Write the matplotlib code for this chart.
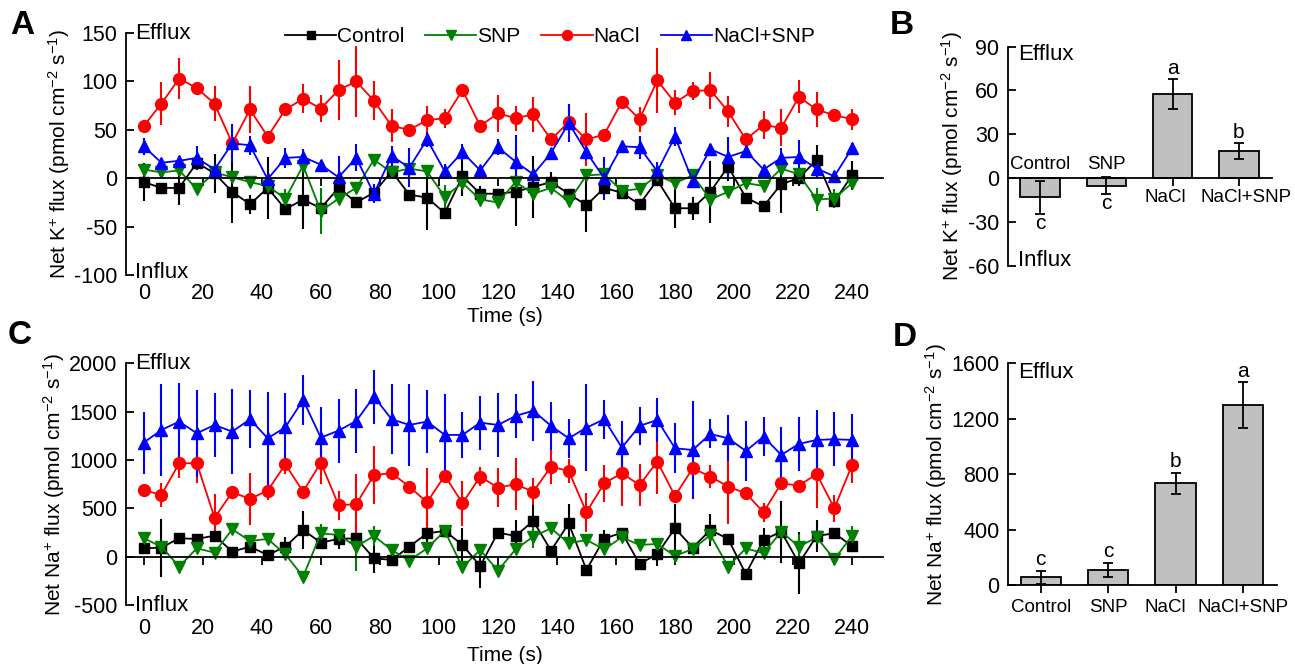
import numpy as np
import matplotlib
matplotlib.use("Agg")
import matplotlib.pyplot as plt
import matplotlib.transforms as mtransforms

plt.rcParams['font.family'] = ['Liberation Sans', 'DejaVu Sans']
plt.rcParams['mathtext.fontset'] = 'custom'
plt.rcParams['mathtext.rm'] = 'Liberation Sans'
plt.rcParams['mathtext.it'] = 'Liberation Sans:italic'
plt.rcParams['axes.unicode_minus'] = False
plt.rcParams['font.size'] = 15

# time points (s)
time = [0, 6, 12, 18, 24, 30, 36, 42, 48, 54, 60, 66, 72, 78, 84, 90, 96, 102, 108, 114, 120,
        126, 132, 138, 144, 150, 156, 162, 168, 174, 180, 186, 192, 198, 204, 210, 216, 222, 228, 234, 240]

names = ["Control", "SNP", "NaCl", "NaCl+SNP"]

# panel A: net K+ flux
k_ctrl = [-4, -10, -10, 16, 5, -14, -27, -10, -32, -22, -31, -10, -25, -15, 7, -17, -20, -36, 2, -16,
          -16, -14, -9, -4, -16, -28, -10, -15, -27, -2, -31, -31, -14, 12, -20, -29, -6, 0, 19, -24, 3]
k_ctrl_err = [20, 4, 18, 4, 20, 32, 10, 32, 4, 30, 4, 15, 4, 4, 4, 4, 33, 4, 20, 8,
              4, 35, 32, 10, 4, 28, 4, 4, 4, 4, 20, 12, 32, 15, 4, 4, 30, 8, 15, 4, 15]
k_snp = [9, 6, 8, -11, 6, 1, -4, -8, -21, 13, -34, -21, -10, 19, 6, 10, 7, -19, -5, -22,
         -25, -4, -16, -10, -24, 3, 4, -13, -11, 3, -5, 3, -22, -14, -5, -8, 10, 4, -22, -21, -5]
k_snp_err = [4, 4, 4, 4, 4, 4, 4, 4, 10, 4, 24, 4, 4, 4, 4, 4, 4, 12, 4, 4,
             4, 4, 4, 4, 4, 4, 4, 4, 4, 4, 4, 4, 4, 4, 4, 4, 4, 4, 12, 10, 4]
k_nacl = [54, 77, 103, 93, 77, 36, 71, 43, 71, 82, 72, 91, 100, 80, 54, 50, 60, 62, 91, 54,
          67, 62, 66, 40, 58, 40, 45, 79, 61, 101, 78, 90, 91, 69, 40, 55, 52, 84, 71, 65, 61]
k_nacl_err = [4, 22, 21, 3, 18, 8, 24, 3, 3, 15, 14, 31, 37, 20, 17, 3, 15, 10, 3, 3,
              19, 13, 18, 3, 19, 27, 3, 3, 13, 34, 13, 9, 19, 16, 3, 14, 19, 17, 18, 3, 11]
k_both = [33, 16, 18, 21, 9, 36, 34, -1, 21, 22, 14, 1, 21, -16, 23, 11, 40, 7, 27, 8,
          32, 17, 4, 26, 57, 27, 0, 33, 32, 7, 43, -3, 30, 22, 28, 9, 21, 22, 10, 2, 31]
k_both_err = [9, 5, 5, 12, 5, 20, 10, 5, 10, 8, 5, 22, 14, 10, 10, 20, 8, 8, 8, 5,
              8, 28, 5, 5, 20, 8, 22, 5, 12, 10, 10, 5, 5, 21, 5, 5, 10, 17, 10, 5, 5]

# panel C: net Na+ flux
na_ctrl = [86, 93, 190, 183, 217, 52, 103, 17, 103, 276, 145, 183, 190, -17, -34, 103, 241, 266, 121, -97,
           248, 214, 369, 62, 345, -138, 186, 248, -76, 28, 293, 93, 276, 183, -179, 172, 259, -69, 214, 241, 110]
na_ctrl_err = [40, 300, 40, 40, 40, 40, 40, 50, 100, 200, 40, 100, 40, 150, 40, 40, 200, 40, 180, 230,
               40, 170, 180, 40, 200, 40, 90, 40, 40, 120, 250, 40, 170, 40, 40, 120, 320, 320, 170, 40, 40]
na_snp = [190, 103, -103, 86, 41, 283, 162, 183, 24, -207, 241, 224, 103, 214, 69, -41, 86, 266, -110, 69,
          -145, 76, 207, 293, 138, 172, 76, 200, 121, 131, 7, 79, 224, -103, 86, 34, 259, 103, 200, -28, 217]
na_snp_err = [40, 40, 40, 40, 40, 40, 40, 40, 40, 40, 100, 40, 250, 100, 40, 40, 40, 40, 40, 40,
              40, 40, 120, 40, 40, 40, 40, 40, 40, 40, 40, 40, 40, 40, 40, 40, 40, 130, 40, 40, 100]
na_nacl = [690, 638, 966, 966, 403, 666, 597, 683, 955, 672, 972, 534, 541, 845, 862, 724, 562, 838, 552, 828,
           714, 748, 672, 931, 886, 459, 759, 862, 741, 983, 628, 914, 828, 724, 655, 459, 759, 734, 855, 500, 948]
na_nacl_err = [40, 120, 150, 200, 250, 40, 270, 100, 100, 40, 220, 150, 310, 300, 40, 40, 350, 40, 230, 100,
               200, 270, 140, 180, 120, 200, 190, 340, 220, 340, 40, 100, 120, 390, 40, 100, 40, 40, 350, 140, 190]
na_both = [1179, 1310, 1397, 1276, 1362, 1293, 1421, 1224, 1338, 1621, 1231, 1303, 1403, 1655, 1421, 1362, 1397, 1259, 1259, 1386,
           1362, 1455, 1510, 1352, 1224, 1334, 1421, 1128, 1352, 1414, 1121, 1103, 1269, 1224, 1093, 1241, 1052, 1166, 1207, 1214, 1207]
na_both_err = [320, 480, 400, 450, 330, 440, 300, 480, 350, 260, 320, 330, 330, 280, 360, 420, 330, 420, 240, 280,
               330, 230, 310, 250, 200, 450, 200, 270, 200, 230, 260, 510, 150, 240, 310, 200, 290, 280, 310, 280, 270]

# panels B and D: mean flux
k_mean = [-13.2, -5.3, 57.5, 18.7]
k_sd = [11.2, 5.7, 10.3, 5.3]
k_letters = ["c", "c", "a", "b"]
na_mean = [58, 110, 736, 1298]
na_sd = [48, 52, 75, 167]
na_letters = ["c", "c", "b", "a"]

colors = ["black", "#008000", "#ff0000", "#0000ff"]
markers = ["s", "v", "o", "^"]
msizes = [7, 8, 8.5, 8.5]
# horizontal nudge of category names, in pixels
shift_b = [0, 0, -7, 7]
shift_d = [0, 0, -10, 0]

fig = plt.figure(figsize=(12.95, 6.64), dpi=100)

axA = fig.add_axes([0.0973, 0.5858, 0.5846, 0.3645])
axC = fig.add_axes([0.0973, 0.0889, 0.5846, 0.3640])
axB = fig.add_axes([0.7782, 0.5999, 0.2039, 0.3298])
axD = fig.add_axes([0.7782, 0.1185, 0.2077, 0.3343])


def time_panel(ax, series, errs, ylim, yticks, ylabel, tpad, lpad, influx_off):
    lines = []
    for y, e, c, m, ms in zip(series, errs, colors, markers, msizes):
        cont = ax.errorbar(time, y, yerr=e, fmt='-' + m, color=c, ms=ms, lw=1.3,
                           elinewidth=1.5, capsize=0, clip_on=False)
        lines.append(cont[0])
    ax.set_xlim(-6, 250.5)
    ax.set_ylim(*ylim)
    ax.set_yticks(yticks)
    ax.spines['top'].set_visible(False)
    ax.spines['right'].set_visible(False)
    ax.spines['left'].set_linewidth(1.3)
    ax.spines['bottom'].set_position(('data', 0))
    ax.spines['bottom'].set_linewidth(1.3)
    ax.tick_params(axis='y', direction='in', length=6, width=1.3, pad=6, labelsize=15.5)
    ax.set_xticks(range(0, 241, 20))
    ax.tick_params(axis='x', direction='out', length=6, width=1.3, labelbottom=False)
    sec = ax.secondary_xaxis('bottom')
    sec.spines['bottom'].set_visible(False)
    sec.set_xticks(range(0, 241, 20))
    sec.tick_params(length=0, pad=tpad, labelsize=15.5)
    sec.set_xlabel("Time (s)", fontsize=15, labelpad=lpad)
    ax.set_ylabel(ylabel, fontsize=15, labelpad=2)
    ax.text(0.012, 1.0, "Efflux", transform=ax.transAxes, va='center', ha='left', fontsize=16)
    off = mtransforms.ScaledTranslation(0, -influx_off / 100, fig.dpi_scale_trans)
    ax.text(0.012, 0.0, "Influx", transform=ax.transAxes + off, va='baseline', ha='left', fontsize=16)
    return lines


lines = time_panel(axA, [k_ctrl, k_snp, k_nacl, k_both],
                   [k_ctrl_err, k_snp_err, k_nacl_err, k_both_err],
                   (-100, 150), [-100, -50, 0, 50, 100, 150],
                   r"Net K$^{+}$ flux (pmol cm$^{-2}$ s$^{-1}$)", 6, 2, 3)
axA.legend(lines, names, loc='center', bbox_to_anchor=(0.56, 0.985), ncol=4, frameon=False,
           fontsize=15, handlelength=2.45, handletextpad=0.05, columnspacing=1.0, markerscale=0.85,
           borderpad=0, borderaxespad=0)

time_panel(axC, [na_ctrl, na_snp, na_nacl, na_both],
           [na_ctrl_err, na_snp_err, na_nacl_err, na_both_err],
           (-500, 2000), [-500, 0, 500, 1000, 1500, 2000],
           r"Net Na$^{+}$ flux (pmol cm$^{-2}$ s$^{-1}$)", 9.5, 5, 6)

# panel B
xpos = np.arange(len(names))
axB.bar(xpos, k_mean, width=0.6, color='#c0c0c0', edgecolor='black', linewidth=1.3, zorder=2)
axB.errorbar(xpos, k_mean, yerr=k_sd, fmt='none', ecolor='black', elinewidth=1.3,
             capsize=3.5, capthick=1.3, zorder=3)
axB.set_xlim(-0.49, 3.5)
axB.set_ylim(-60, 90)
axB.set_yticks([-60, -30, 0, 30, 60, 90])
axB.spines['top'].set_visible(False)
axB.spines['right'].set_visible(False)
axB.spines['left'].set_linewidth(1.3)
axB.spines['bottom'].set_position(('data', 0))
axB.spines['bottom'].set_linewidth(1.3)
axB.set_xticks(xpos)
axB.tick_params(axis='x', direction='out', length=6, width=1.3, labelbottom=False)
axB.tick_params(axis='y', direction='in', length=6, width=1.3, pad=6, labelsize=15.5)
for x, m, s, lab, let, dx in zip(xpos, k_mean, k_sd, names, k_letters, shift_b):
    if m < 0:
        axB.annotate(lab, (x, 0), xytext=(dx * 0.72, 4), textcoords='offset points',
                     ha='center', va='bottom', fontsize=13.5)
        axB.annotate(let, (x, m - s), xytext=(0, 0), textcoords='offset points',
                     ha='center', va='top', fontsize=15)
    else:
        axB.annotate(lab, (x, 0), xytext=(dx * 0.72, -8), textcoords='offset points',
                     ha='center', va='top', fontsize=13.5)
        axB.annotate(let, (x, m + s), xytext=(0, 1), textcoords='offset points',
                     ha='center', va='bottom', fontsize=15)
axB.set_ylabel(r"Net K$^{+}$ flux (pmol cm$^{-2}$ s$^{-1}$)", fontsize=15, labelpad=2)
axB.text(0.04, 0.965, "Efflux", transform=axB.transAxes, va='center', ha='left', fontsize=16)
axB.text(0.04, 0.025, "Influx", transform=axB.transAxes, va='center', ha='left', fontsize=16)

# panel D
axD.bar(xpos, na_mean, width=0.6, color='#c0c0c0', edgecolor='black', linewidth=1.3, zorder=2)
axD.errorbar(xpos, na_mean, yerr=na_sd, fmt='none', ecolor='black', elinewidth=1.3,
             capsize=3.5, capthick=1.3, zorder=3)
axD.set_xlim(-0.49, 3.5)
axD.set_ylim(0, 1600)
axD.set_yticks([0, 400, 800, 1200, 1600])
axD.spines['top'].set_visible(False)
axD.spines['right'].set_visible(False)
axD.spines['left'].set_linewidth(1.3)
axD.spines['bottom'].set_linewidth(1.3)
axD.set_xticks(xpos)
axD.set_xticklabels(names)
axD.tick_params(axis='x', direction='out', length=6, width=1.3, pad=4, labelsize=13.5)
axD.tick_params(axis='y', direction='in', length=6, width=1.3, pad=6, labelsize=15.5)
for tl, dx in zip(axD.get_xticklabels(), shift_d):
    tl.set_transform(tl.get_transform() + mtransforms.ScaledTranslation(dx / 100, 0, fig.dpi_scale_trans))
for x, m, s, let in zip(xpos, na_mean, na_sd, na_letters):
    axD.annotate(let, (x, m + s), xytext=(0, 1), textcoords='offset points',
                 ha='center', va='bottom', fontsize=15)
axD.set_ylabel(r"Net Na$^{+}$ flux (pmol cm$^{-2}$ s$^{-1}$)", fontsize=15, labelpad=2)
axD.text(0.04, 0.96, "Efflux", transform=axD.transAxes, va='center', ha='left', fontsize=16)

# panel letters
for lab, x, y in [("A", 0.008, 0.962), ("B", 0.687, 0.962), ("C", 0.006, 0.495), ("D", 0.689, 0.492)]:
    fig.text(x, y, lab, fontsize=24, fontweight='bold', va='center', ha='left')

fig.savefig("out.png", dpi=100)
